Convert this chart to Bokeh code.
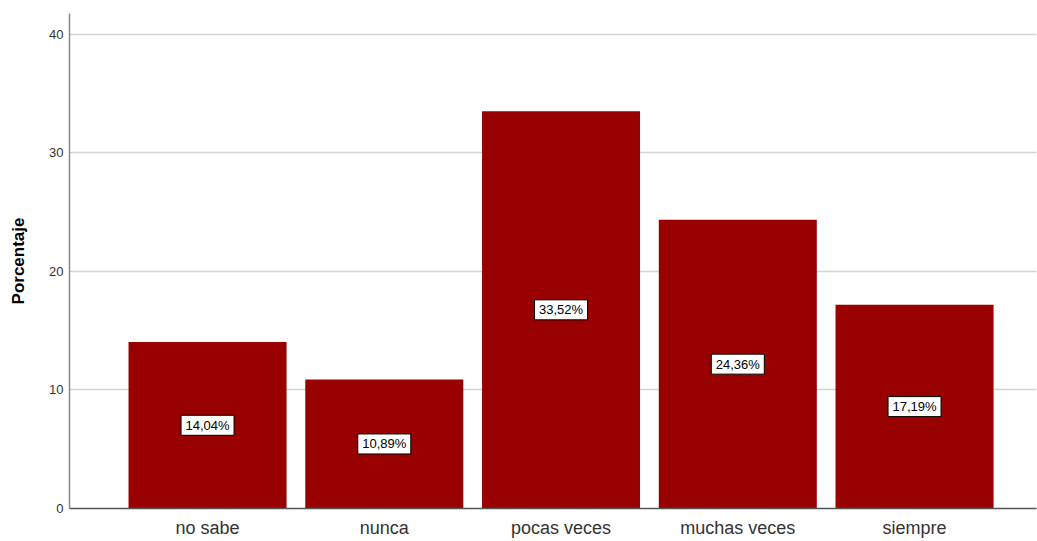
from bokeh.plotting import figure
from bokeh.models import ColumnDataSource, FixedTicker, Range1d
from bokeh.core.properties import value
from bokeh.embed import file_html
from bokeh.resources import INLINE

categories = ["no sabe", "nunca", "pocas veces", "muchas veces", "siempre"]
values = [14.04, 10.89, 33.52, 24.36, 17.19]
label_texts = ["14,04%", "10,89%", "33,52%", "24,36%", "17,19%"]
y_ticks = [0, 10, 20, 30, 40]

positions = list(range(1, len(categories) + 1))
source = ColumnDataSource(data=dict(
    x=positions,
    top=values,
    mid=[v / 2 for v in values],
    lab=label_texts,
))

p = figure(width=1037, height=540, output_backend="svg", toolbar_location=None,
           x_range=Range1d(0.219, 5.69), y_range=Range1d(0, 41.76),
           min_border_left=69, min_border_right=1, min_border_top=13, min_border_bottom=30)
p.outline_line_color = None
p.background_fill_color = "white"
p.border_fill_color = "white"

p.vbar(x="x", top="top", width=0.894, source=source, fill_color="#990000", line_color=None)

# value label boxes
p.rect(x="x", y="mid", width=53, height=20, width_units="screen", height_units="screen",
       source=source, fill_color="white", line_color="black", line_width=1)
p.text(x="x", y="mid", text="lab", source=source, text_align="center", text_baseline="middle",
       text_font=value("Liberation Sans"), text_font_size="13px", text_color="black")

# axes
p.xaxis.ticker = FixedTicker(ticks=positions)
p.xaxis.major_label_overrides = {pos: c for pos, c in zip(positions, categories)}
p.xaxis.major_tick_line_color = None
p.xaxis.minor_tick_line_color = None
p.xaxis.major_tick_out = 0
p.xaxis.major_label_standoff = 9
p.xaxis.major_label_text_font = "Liberation Sans"
p.xaxis.major_label_text_font_size = "18px"
p.xaxis.major_label_text_color = "#333333"
p.xaxis.axis_line_color = "#555555"
p.xaxis.axis_line_width = 1.5

p.yaxis.ticker = FixedTicker(ticks=y_ticks)
p.yaxis.major_tick_line_color = None
p.yaxis.minor_tick_line_color = None
p.yaxis.major_tick_out = 0
p.yaxis.major_label_standoff = 6
p.yaxis.major_label_text_font = "Liberation Sans"
p.yaxis.major_label_text_font_size = "13px"
p.yaxis.major_label_text_color = "#333333"
p.yaxis.axis_line_color = "#888888"
p.yaxis.axis_line_width = 1.5
p.yaxis.axis_label = "Porcentaje"
p.yaxis.axis_label_text_font = "Liberation Sans"
p.yaxis.axis_label_text_font_style = "bold"
p.yaxis.axis_label_text_font_size = "17px"
p.yaxis.axis_label_text_color = "black"
p.yaxis.axis_label_standoff = 18

p.xgrid.grid_line_color = None
p.ygrid.grid_line_color = "#d4d4d4"
p.ygrid.grid_line_width = 1.5
p.ygrid.ticker = FixedTicker(ticks=y_ticks[1:])

open("out.html", "w").write(file_html(p, INLINE))
